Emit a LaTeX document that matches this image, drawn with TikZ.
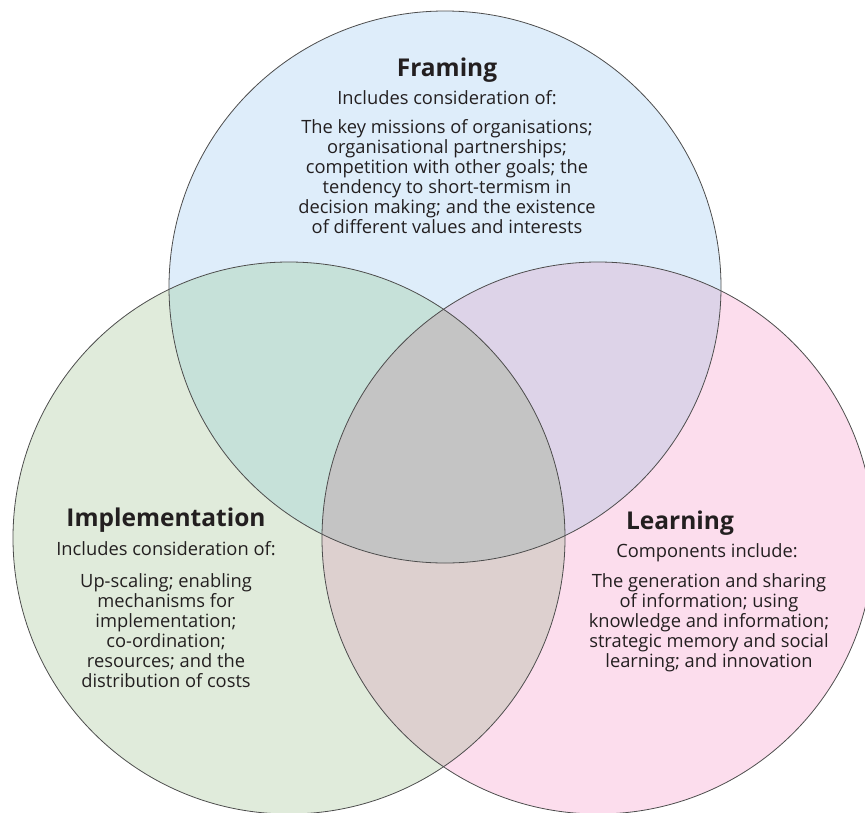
\documentclass[tikz,border=0pt]{standalone}
\usepackage{fontspec}
\setmainfont{Open Sans}
\definecolor{framefill}{HTML}{DEEDFA}
\definecolor{implfill}{HTML}{E0EBDB}
\definecolor{learnfill}{HTML}{FCDDED}
\definecolor{frameimpl}{HTML}{C6E1D9}
\definecolor{framelearn}{HTML}{DDD3E8}
\definecolor{impllearn}{HTML}{DDD0CF}
\definecolor{allthree}{HTML}{C4C4C4}
\definecolor{ringline}{HTML}{4D4D4D}
\definecolor{textcol}{HTML}{231F20}
\begin{document}
\begin{tikzpicture}[x=1pt,y=-1pt,
    ring/.style={draw=ringline,line width=0.8pt},
    title/.style={font=\fontsize{24.5}{28}\selectfont\bfseries,text=textcol,inner sep=0pt,anchor=base},
    intro/.style={font=\fontsize{18.3}{20}\selectfont,text=textcol,inner sep=0pt,anchor=base},
    body/.style={font=\fontsize{18.3}{20}\selectfont,text=textcol,inner sep=0pt,align=center,anchor=north}]
    \useasboundingbox (0,0) rectangle (865,812);
    \coordinate (cf) at (445,287);
    \coordinate (ci) at (289,538);
    \coordinate (cl) at (598,538);
    % circles
    \fill[framefill] (cf) circle (276pt);
    \fill[implfill] (ci) circle (276pt);
    \fill[learnfill] (cl) circle (276pt);
    % overlaps
    \begin{scope}
        \clip (cf) circle (276pt);
        \fill[frameimpl] (ci) circle (276pt);
        \fill[framelearn] (cl) circle (276pt);
        \clip (ci) circle (276pt);
        \fill[allthree] (cl) circle (276pt);
    \end{scope}
    \begin{scope}
        \clip (ci) circle (276pt);
        \clip (cl) circle (276pt);
        \fill[impllearn] (cl) circle (276pt);
        \clip (cf) circle (276pt);
        \fill[allthree] (cl) circle (276pt);
    \end{scope}
    \draw[ring] (cf) circle (276pt);
    \draw[ring] (ci) circle (276pt);
    \draw[ring] (cl) circle (276pt);
    % texts
    \node[title] (frame) at (447,76) {Framing};
    \node[intro] (framesub) at (447,104) {Includes consideration of:};
    \node[body] (framebody) at (447,119.5) {The key missions of organisations;\\
        organisational partnerships;\\
        competition with other goals; the\\
        tendency to short-termism in\\
        decision making; and the existence\\
        of different values and interests};
    \node[title] (impl) at (166,526) {Implementation};
    \node[intro] (implsub) at (166,555) {Includes consideration of:};
    \node[body] (implbody) at (166,573) {Up-scaling; enabling\\
        mechanisms for\\
        implementation;\\
        co-ordination;\\
        resources; and the\\
        distribution of costs};
    \node[title] (learn) at (680,529) {Learning};
    \node[intro] (learnsub) at (707,557) {Components include:};
    \node[body] (learnbody) at (709,573) {The generation and sharing\\
        of information; using\\
        knowledge and information;\\
        strategic memory and social\\
        learning; and innovation};
\end{tikzpicture}
\end{document}
